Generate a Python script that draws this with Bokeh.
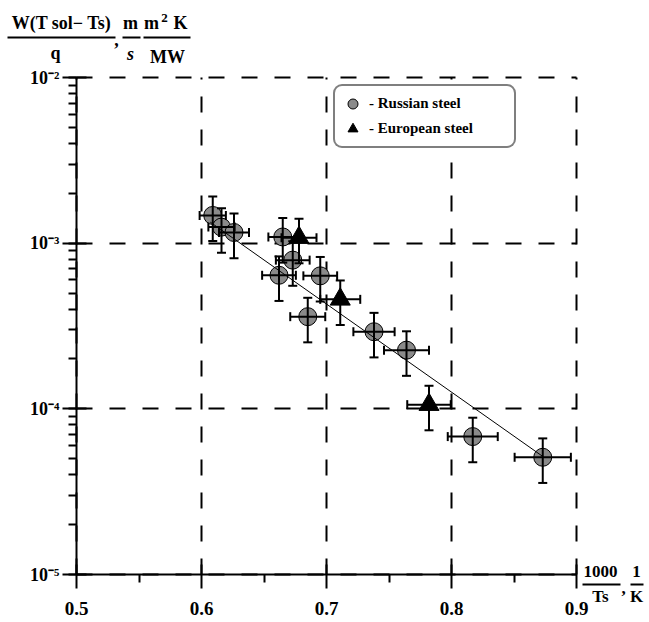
import numpy as np
from bokeh.plotting import figure
from bokeh.models import (Range1d, FixedTicker, LogTicker, CustomJSTickFormatter, ColumnDataSource,
                          Whisker, TeeHead, Legend, LegendItem, Label, BoxAnnotation, Grid)
from bokeh.embed import file_html
from bokeh.resources import INLINE

# ---------------- data ----------------
russian_x = [0.609, 0.616, 0.626, 0.665, 0.673, 0.662, 0.695, 0.685, 0.738, 0.764, 0.817, 0.873]
russian_y = [1.47e-3, 1.25e-3, 1.16e-3, 1.09e-3, 7.9e-4, 6.4e-4, 6.35e-4, 3.6e-4, 2.92e-4, 2.26e-4, 6.8e-5, 5.1e-5]
russian_xerr = [0.0105, 0.0105, 0.012, 0.0115, 0.0135, 0.0135, 0.0135, 0.014, 0.0165, 0.018, 0.020, 0.0225]

european_x = [0.678, 0.711, 0.782]
european_y = [1.08e-3, 4.58e-4, 1.06e-4]
european_xerr = [0.014, 0.016, 0.0174]

rel_yerr = 0.30   # +-30 % vertical error bars

fit_x = [0.607, 0.873]
fit_y = [1.34e-3, 5.16e-5]

x_ticks = [0.5, 0.6, 0.7, 0.8, 0.9]
x_minor = [0.55, 0.65, 0.75, 0.85]
y_ticks = [1e-5, 1e-4, 1e-3, 1e-2]
legend_labels = ["- Russian steel", "- European steel"]

FONT = "Liberation Serif"

# ---------------- layout: axes box inside the full canvas ----------------
W, H = 649, 622
AX_L, AX_R, AX_T, AX_B = 76, 576, 77, 574          # pixel box of the axes
X0, X1 = x_ticks[0], x_ticks[-1]
LY0, LY1 = np.log10(y_ticks[0]), np.log10(y_ticks[-1])
dx = (X1 - X0) / (AX_R - AX_L)
dly = (LY1 - LY0) / (AX_B - AX_T)
x_range = Range1d(X0 - AX_L * dx, X1 + (W - AX_R) * dx)
y_range = Range1d(10 ** (LY0 - (H - AX_B) * dly), 10 ** (LY1 + AX_T * dly))

p = figure(width=W, height=H, output_backend="svg", toolbar_location=None, title=None,
           x_range=x_range, y_range=y_range, y_axis_type="log", min_border=0)
p.outline_line_color = None
p.background_fill_color = "white"
p.border_fill_color = "white"

# axes (placed at fixed data locations so that the frame covers the whole canvas)
xax = p.xaxis[0]
yax = p.yaxis[0]
xax.fixed_location = y_ticks[0]
yax.fixed_location = x_ticks[0]
xax.bounds = (X0, X1)
yax.bounds = (y_ticks[0], y_ticks[-1])
xax.ticker = FixedTicker(ticks=x_ticks, minor_ticks=x_minor)
yax.ticker = LogTicker(num_minor_ticks=10)
yax.formatter = CustomJSTickFormatter(code="""
const e = Math.round(Math.log10(tick));
const sup = {'-':'\u207b','0':'\u2070','1':'\u00b9','2':'\u00b2','3':'\u00b3','4':'\u2074','5':'\u2075','6':'\u2076','7':'\u2077','8':'\u2078','9':'\u2079'};
return '10' + String(e).split('').map(c => sup[c]).join('');
""")
for ax in (xax, yax):
    ax.axis_line_width = 2
    ax.axis_line_color = "black"
    ax.major_tick_line_width = 2
    ax.major_tick_line_color = "black"
    ax.minor_tick_line_width = 2
    ax.minor_tick_line_color = "black"
    ax.major_tick_in = 10
    ax.major_tick_out = 14
    ax.minor_tick_in = 0
    ax.minor_tick_out = 8
    ax.major_label_text_font = FONT
    ax.major_label_text_font_style = "bold"
    ax.major_label_text_color = "black"
xax.major_label_text_font_size = "19px"
xax.major_label_standoff = 13
yax.major_label_text_font_size = "18px"
yax.major_label_standoff = 3

# dashed grid limited to the axes box
has_cross = "cross_bounds" in Grid.properties()
for g, cb in ((p.xgrid[0], (y_ticks[0], y_ticks[-1])), (p.ygrid[0], (X0, X1))):
    g.grid_line_color = "black"
    g.grid_line_width = 2
    g.grid_line_dash = "16 17"
    g.grid_line_alpha = 1.0
    if has_cross:
        g.cross_bounds = cb
    else:
        g.visible = False
if not has_cross:
    n = len(x_ticks) - 1
    p.segment(x0=x_ticks[1:], y0=[y_ticks[0]] * n, x1=x_ticks[1:], y1=[y_ticks[-1]] * n,
              line_color="black", line_width=2, line_dash="16 17")
    m = len(y_ticks) - 1
    p.segment(x0=[X0] * m, y0=y_ticks[1:], x1=[X1] * m, y1=y_ticks[1:],
              line_color="black", line_width=2, line_dash="16 17")

# ---------------- data marks ----------------
rx = np.array(russian_x); ry = np.array(russian_y); rxe = np.array(russian_xerr)
ex = np.array(european_x); ey = np.array(european_y); exe = np.array(european_xerr)

src_r = ColumnDataSource(dict(x=rx, y=ry, xl=rx - rxe, xu=rx + rxe,
                              yl=ry * (1 - rel_yerr), yu=ry * (1 + rel_yerr)))
src_e = ColumnDataSource(dict(x=ex, y=ey, xl=ex - exe, xu=ex + exe,
                              yl=ey * (1 - rel_yerr), yu=ey * (1 + rel_yerr)))

r_rus = p.scatter("x", "y", source=src_r, marker="circle", size=18,
                  fill_color="#8a8a8a", line_color="black", line_width=1)
r_eu = p.scatter("x", "y", source=src_e, marker="triangle", size=20,
                 fill_color="black", line_color="black", line_width=1)

p.line(fit_x, fit_y, line_color="black", line_width=1)

for src in (src_r, src_e):
    for dim, base, lo, hi in (("height", "x", "yl", "yu"), ("width", "y", "xl", "xu")):
        w = Whisker(source=src, base=base, lower=lo, upper=hi, dimension=dim,
                    line_color="black", line_width=2, level="annotation",
                    upper_head=TeeHead(size=9, line_width=2, line_color="black"),
                    lower_head=TeeHead(size=9, line_width=2, line_color="black"))
        p.add_layout(w)

# ---------------- legend ----------------
LEG_L, LEG_B = 333, 148
legend = Legend(items=[LegendItem(label=legend_labels[0], renderers=[r_rus]),
                       LegendItem(label=legend_labels[1], renderers=[r_eu])],
                location=(LEG_L, H - LEG_B), padding=5, spacing=0, margin=0,
                glyph_width=25, glyph_height=25, label_height=25, label_standoff=4,
                label_width=140,
                label_text_font=FONT, label_text_font_style="bold",
                label_text_font_size="15px", label_text_color="black",
                border_line_color="black", border_line_width=2,
                background_fill_color="white", background_fill_alpha=1.0)
try:
    legend.border_radius = 9
except Exception:
    pass
p.add_layout(legend)

# ---------------- axis titles (fractions) ----------------
def lab(text, cx, cy, size=18, style="bold", align="center"):
    p.add_layout(Label(x=cx, y=H - cy, x_units="screen", y_units="screen",
                       text=text, text_font=FONT, text_font_size=f"{size}px",
                       text_font_style=style, text_align=align,
                       text_baseline="middle", text_color="black"))


def bar(x0, x1, yc):
    p.add_layout(BoxAnnotation(left=x0, right=x1, top=H - yc + 1, bottom=H - yc - 1,
                               left_units="screen", right_units="screen",
                               top_units="screen", bottom_units="screen",
                               fill_color="black", fill_alpha=1.0, line_color=None))


# y title: W(Tsol-Ts)/q , m/s  m^2K/MW
lab("W(T sol\u2212 Ts)", 61, 22)
bar(7, 115, 37)
lab("q", 55, 52)
lab(",", 116, 39)
lab("m", 130, 22)
bar(122, 140, 37)
lab("s", 130, 53, style="bold italic")
lab("m", 151, 22)
lab("2", 164, 17, size=13)
lab("K", 180, 22)
bar(143, 190, 37)
lab("MW", 167, 56)

# x title: 1000/Ts , 1/K
lab("1000", 600, 571, size=17)
bar(582, 620, 584)
lab("Ts", 600, 596, size=17)
lab(",", 623, 588, size=17)
lab("1", 636, 571, size=17)
bar(630, 643, 584)
lab("K", 636, 596, size=17)

open("out.html", "w").write(file_html(p, INLINE))
